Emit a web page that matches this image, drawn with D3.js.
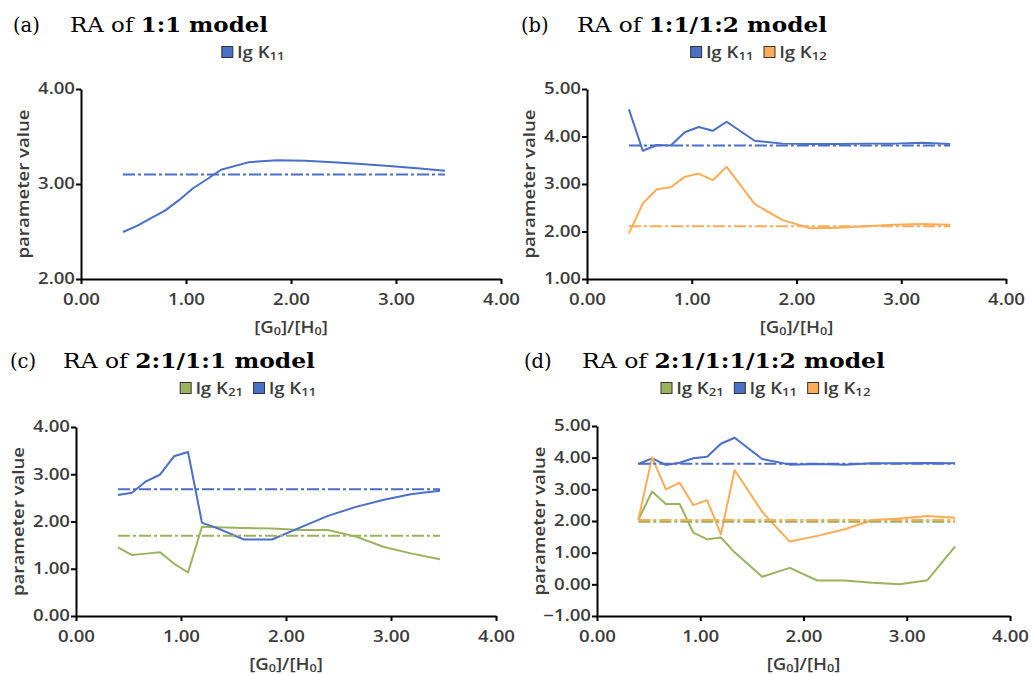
<!DOCTYPE html>
<html>
<head>
<meta charset="utf-8">
<script src="https://cdn.jsdelivr.net/npm/d3@7"></script>
<style>
	body { margin: 0; background: #fff; }
	svg { display: block; }
	.axis text { font-family: 'Open Sans', sans-serif; font-weight: 650; font-size: 15.5px; fill: #3c3c3c; }
	.axis .domain, .axis line { stroke: #000; stroke-width: 2; }
	.label { font-family: 'Open Sans', sans-serif; font-weight: 600; font-size: 15.5px; fill: #3c3c3c; }
	.title { font-family: 'DejaVu Serif', serif; font-size: 19.5px; fill: #000; }
</style>
</head>
<body>
<svg id="graphic" width="1031" height="675"></svg>
<script>

// [G0]/[H0] ratios shared by every panel
const ratio = [0.4, 0.533, 0.667, 0.8, 0.933, 1.067, 1.2, 1.333, 1.6, 1.867, 2.133, 2.4, 2.667, 2.933, 3.2, 3.467];
const xTicks = [0, 1, 2, 3, 4];

// (a) 1:1 model
const aK11 = [2.495, 2.56, 2.64, 2.72, 2.83, 2.955, 3.05, 3.15, 3.23, 3.25, 3.245, 3.23, 3.21, 3.19, 3.165, 3.14];
const aK11Fit = 3.10;
const aYTicks = [2, 3, 4];

// (b) 1:1/1:2 model
const bK11 = [4.57, 3.70, 3.82, 3.81, 4.09, 4.20, 4.12, 4.31, 3.91, 3.85, 3.84, 3.84, 3.85, 3.85, 3.87, 3.84];
const bK12 = [1.96, 2.59, 2.89, 2.93, 3.15, 3.22, 3.08, 3.36, 2.58, 2.24, 2.07, 2.08, 2.11, 2.14, 2.16, 2.14];
const bK11Fit = 3.81;
const bK12Fit = 2.11;
const bYTicks = [1, 2, 3, 4, 5];

// (c) 2:1/1:1 model
const cK21 = [1.45, 1.29, 1.32, 1.35, 1.11, 0.92, 1.89, 1.88, 1.86, 1.85, 1.82, 1.82, 1.68, 1.46, 1.32, 1.20];
const cK11 = [2.56, 2.61, 2.85, 2.99, 3.38, 3.47, 1.97, 1.87, 1.62, 1.62, 1.87, 2.12, 2.31, 2.46, 2.58, 2.65];
const cK21Fit = 1.70;
const cK11Fit = 2.68;
const cYTicks = [0, 1, 2, 3, 4];

// (d) 2:1/1:1/1:2 model
const dK21 = [2.03, 2.93, 2.54, 2.54, 1.63, 1.42, 1.48, 1.01, 0.24, 0.52, 0.12, 0.12, 0.05, 0.0, 0.13, 1.19];
const dK11 = [3.80, 3.98, 3.77, 3.84, 3.98, 4.03, 4.44, 4.63, 3.96, 3.78, 3.80, 3.78, 3.82, 3.82, 3.83, 3.82];
const dK12 = [2.03, 4.01, 3.00, 3.21, 2.50, 2.66, 1.58, 3.61, 2.29, 1.35, 1.53, 1.74, 2.03, 2.08, 2.16, 2.10];
const dK21Fit = 1.98;
const dK11Fit = 3.81;
const dK12Fit = 2.03;
const dYTicks = [-1, 0, 1, 2, 3, 4, 5];

const blue = '#4a6fc6', orange = '#ffab57', green = '#9bb35c';
const stretch = 1.2; // the sans text in the figure is drawn wider than the font

const svg = d3.select('#graphic');

const panels = [
	{ tag: '(a)', model: '1:1 model', yTicks: aYTicks,
		series: [{ sub: '11', colour: blue, values: aK11, fit: aK11Fit }],
		left: 81, right: 501, top: 89, bottom: 279, tagX: 13, titleX: 70, titleY: 32, titleLen: 198, legendY: 46 },
	{ tag: '(b)', model: '1:1/1:2 model', yTicks: bYTicks,
		series: [{ sub: '11', colour: blue, values: bK11, fit: bK11Fit },
			{ sub: '12', colour: orange, values: bK12, fit: bK12Fit }],
		left: 587, right: 1006, top: 89, bottom: 279, tagX: 521, titleX: 577, titleY: 32, titleLen: 250, legendY: 46 },
	{ tag: '(c)', model: '2:1/1:1 model', yTicks: cYTicks,
		series: [{ sub: '21', colour: green, values: cK21, fit: cK21Fit },
			{ sub: '11', colour: blue, values: cK11, fit: cK11Fit }],
		left: 76, right: 496, top: 427, bottom: 616, tagX: 10, titleX: 63, titleY: 368, titleLen: 252, legendY: 382 },
	{ tag: '(d)', model: '2:1/1:1/1:2 model', yTicks: dYTicks,
		series: [{ sub: '21', colour: green, values: dK21, fit: dK21Fit },
			{ sub: '11', colour: blue, values: dK11, fit: dK11Fit },
			{ sub: '12', colour: orange, values: dK12, fit: dK12Fit }],
		left: 597, right: 1010, top: 426, bottom: 616, tagX: 524, titleX: 582, titleY: 368, titleLen: 303, legendY: 382 }
];

//widen text by a factor, keeping its anchor
function widen(sel, k) {
	sel.each(function () {
		const w = this.getComputedTextLength();
		d3.select(this).attr('textLength', w * k).attr('lengthAdjust', 'spacingAndGlyphs');
	});
}

function drawPanel(p) {
	const x = d3.scaleLinear().domain([0, 4]).range([p.left, p.right]);
	const y = d3.scaleLinear().domain(d3.extent(p.yTicks)).range([p.bottom, p.top]);
	const g = svg.append('g');

	//title
	g.append('text').attr('class', 'title')
		.attr('x', p.tagX).attr('y', p.titleY).text(p.tag);
	const title = g.append('text').attr('class', 'title')
		.attr('x', p.titleX).attr('y', p.titleY)
		.attr('textLength', p.titleLen).attr('lengthAdjust', 'spacingAndGlyphs');
	title.append('tspan').text('RA of ');
	title.append('tspan').attr('font-weight', 'bold').text(p.model);

	//legend
	const legend = g.append('g');
	let lx = 0;
	p.series.forEach((s) => {
		legend.append('rect')
			.attr('x', lx + 0.5).attr('y', 0.5)
			.attr('width', 11).attr('height', 11)
			.attr('fill', s.colour).attr('stroke', '#333').attr('stroke-width', 1);
		const t = legend.append('text').attr('class', 'label')
			.attr('x', lx + 16).attr('y', 11.5)
			.attr('font-size', '16px');
		t.append('tspan').text('lg K');
		t.append('tspan').attr('font-size', '11px').attr('dy', 2).text(s.sub);
		widen(t, stretch);
		lx += 16 + t.node().getComputedTextLength() + 10;
	});
	lx -= 10;
	const legendCentre = (p.left + p.right) / 2 - 38;
	legend.attr('transform', `translate(${legendCentre - lx / 2},${p.legendY})`);

	//axes
	const xAxis = d3.axisBottom(x).tickValues(xTicks).tickSize(5).tickSizeOuter(0)
		.tickPadding(10).tickFormat(d3.format('.2f'));
	const yAxis = d3.axisLeft(y).tickValues(p.yTicks).tickSize(5).tickSizeOuter(0)
		.tickPadding(1).tickFormat(d3.format('.2f'));

	g.append('g').attr('class', 'x axis')
		.attr('transform', `translate(0,${p.bottom})`)
		.call(xAxis)
		.selectAll('text').call(widen, stretch);

	g.append('g').attr('class', 'y axis')
		.attr('transform', `translate(${p.left},0)`)
		.call(yAxis)
		.selectAll('text').call(widen, stretch);

	//axis titles
	const xt = g.append('text').attr('class', 'label')
		.attr('x', (p.left + p.right) / 2).attr('y', p.bottom + 54)
		.attr('text-anchor', 'middle');
	xt.append('tspan').text('[G');
	xt.append('tspan').attr('font-size', '10.5px').attr('dy', 2).text('0');
	xt.append('tspan').attr('dy', -2).text(']/[H');
	xt.append('tspan').attr('font-size', '10.5px').attr('dy', 2).text('0');
	xt.append('tspan').attr('dy', -2).text(']');
	widen(xt, stretch);

	g.append('text').attr('class', 'label')
		.attr('transform', `translate(${p.left - 52},${(p.top + p.bottom) / 2}) rotate(-90)`)
		.attr('text-anchor', 'middle')
		.attr('font-weight', 500)
		.attr('textLength', 149).attr('lengthAdjust', 'spacingAndGlyphs')
		.text('parameter value');

	//data lines, then the fitted constants as dash-dot lines
	const line = d3.line().x((d) => x(d[0])).y((d) => y(d[1]));

	p.series.forEach((s) => {
		g.append('path')
			.attr('d', line(d3.zip(ratio, s.values)))
			.attr('fill', 'none').attr('stroke', s.colour)
			.attr('stroke-width', 2).attr('stroke-linejoin', 'round');
	});

	p.series.forEach((s) => {
		g.append('path')
			.attr('d', line([[ratio[0], s.fit], [ratio[ratio.length - 1], s.fit]]))
			.attr('fill', 'none').attr('stroke', s.colour)
			.attr('stroke-width', 2).attr('stroke-dasharray', '12,3,3,3');
	});
}

panels.forEach(drawPanel);

</script>
</body>
</html>
